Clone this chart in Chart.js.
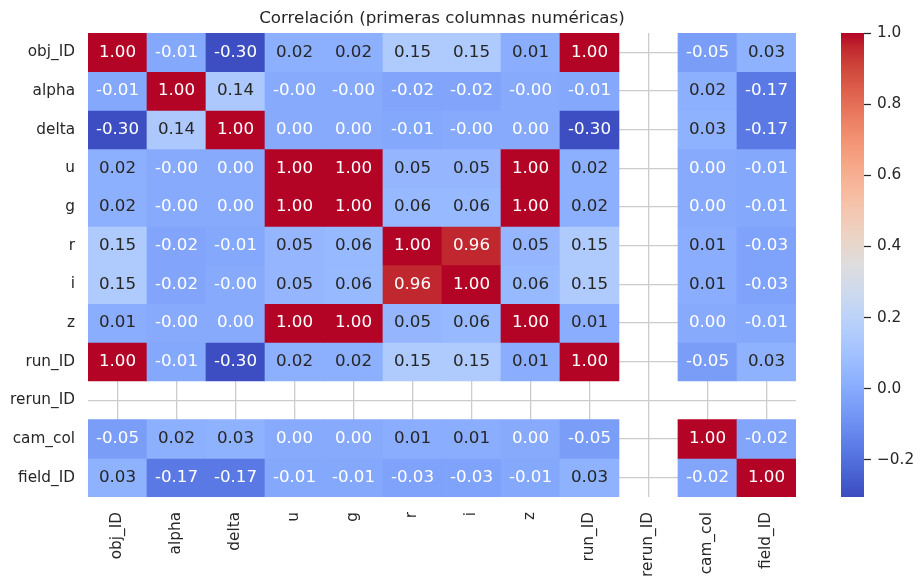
<!DOCTYPE html>
<html>
<head>
<meta charset="utf-8">
<script src="https://cdn.jsdelivr.net/npm/chart.js@4.4.0/dist/chart.umd.min.js"></script>
<style>
    html, body { margin: 0; padding: 0; background: #fff; }
    #wrap { position: relative; width: 924px; height: 584px; }
    #heat { position: absolute; left: 0; top: 0; }
    #cbar { position: absolute; left: 800px; top: 0; }
</style>
</head>
<body>
<div id="wrap">
    <canvas id="heat" width="800" height="584"></canvas>
    <canvas id="cbar" width="124" height="584"></canvas>
</div>
<script>
// columnas (mismo orden en filas y columnas)
const columns = ['obj_ID', 'alpha', 'delta', 'u', 'g', 'r', 'i', 'z', 'run_ID', 'rerun_ID', 'cam_col', 'field_ID'];

// una fila de la matriz de correlación por variable (null = NaN)
const rowObjID   = [1.00, -0.01, -0.30, 0.02, 0.02, 0.15, 0.15, 0.01, 1.00, null, -0.05, 0.03];
const rowAlpha   = [-0.01, 1.00, 0.14, -0.00, -0.00, -0.02, -0.02, -0.00, -0.01, null, 0.02, -0.17];
const rowDelta   = [-0.30, 0.14, 1.00, 0.00, 0.00, -0.01, -0.00, 0.00, -0.30, null, 0.03, -0.17];
const rowU       = [0.02, -0.00, 0.00, 1.00, 1.00, 0.05, 0.05, 1.00, 0.02, null, 0.00, -0.01];
const rowG       = [0.02, -0.00, 0.00, 1.00, 1.00, 0.06, 0.06, 1.00, 0.02, null, 0.00, -0.01];
const rowR       = [0.15, -0.02, -0.01, 0.05, 0.06, 1.00, 0.96, 0.05, 0.15, null, 0.01, -0.03];
const rowI       = [0.15, -0.02, -0.00, 0.05, 0.06, 0.96, 1.00, 0.06, 0.15, null, 0.01, -0.03];
const rowZ       = [0.01, -0.00, 0.00, 1.00, 1.00, 0.05, 0.06, 1.00, 0.01, null, 0.00, -0.01];
const rowRunID   = [1.00, -0.01, -0.30, 0.02, 0.02, 0.15, 0.15, 0.01, 1.00, null, -0.05, 0.03];
const rowRerunID = [null, null, null, null, null, null, null, null, null, null, null, null];
const rowCamCol  = [-0.05, 0.02, 0.03, 0.00, 0.00, 0.01, 0.01, 0.00, -0.05, null, 1.00, -0.02];
const rowFieldID = [0.03, -0.17, -0.17, -0.01, -0.01, -0.03, -0.03, -0.01, 0.03, null, -0.02, 1.00];

const matrix = [rowObjID, rowAlpha, rowDelta, rowU, rowG, rowR, rowI, rowZ, rowRunID, rowRerunID, rowCamCol, rowFieldID];

// rango de la barra de color y sus marcas
const colorMin = -0.304;
const colorMax = 1.0;
const cbarTicks = [-0.2, 0.0, 0.2, 0.4, 0.6, 0.8, 1.0];

const FONT = 'DejaVu Sans';
const DARK = '#262626';

// coolwarm (matplotlib), 33 puntos
const coolwarm = [
    [0.2298, 0.2987, 0.7537], [0.2662, 0.3531, 0.8015], [0.3039, 0.4065, 0.8450], [0.3428, 0.4588, 0.8837],
    [0.3830, 0.5094, 0.9174], [0.4244, 0.5581, 0.9456], [0.4667, 0.6046, 0.9682], [0.5096, 0.6483, 0.9848],
    [0.5530, 0.6889, 0.9954], [0.5963, 0.7261, 0.9998], [0.6392, 0.7596, 0.9982], [0.6813, 0.7890, 0.9904],
    [0.7222, 0.8140, 0.9766], [0.7615, 0.8343, 0.9569], [0.7987, 0.8498, 0.9317], [0.8335, 0.8602, 0.9011],
    [0.8654, 0.8654, 0.8654], [0.8978, 0.8489, 0.8209], [0.9241, 0.8274, 0.7745], [0.9445, 0.8009, 0.7267],
    [0.9589, 0.7698, 0.6780], [0.9673, 0.7341, 0.6288], [0.9700, 0.6943, 0.5794], [0.9668, 0.6504, 0.5303],
    [0.9580, 0.6028, 0.4818], [0.9437, 0.5518, 0.4342], [0.9239, 0.4973, 0.3880], [0.8990, 0.4396, 0.3432],
    [0.8692, 0.3783, 0.3003], [0.8346, 0.3129, 0.2593], [0.7956, 0.2413, 0.2205], [0.7525, 0.1572, 0.1841],
    [0.7057, 0.0156, 0.1502]
];

function cmap(t) {
    t = Math.max(0, Math.min(1, t));
    let pos = t * (coolwarm.length - 1);
    let i = Math.min(Math.floor(pos), coolwarm.length - 2);
    let f = pos - i;
    let a = coolwarm[i], b = coolwarm[i + 1];
    return [0, 1, 2].map(k => a[k] + (b[k] - a[k]) * f);
}

function toCss(c) {
    return 'rgb(' + c.map(v => Math.round(v * 255)).join(',') + ')';
}

function cellRgb(v) {
    return cmap((v - colorMin) / (colorMax - colorMin));
}

// texto claro u oscuro según luminancia de la celda (como seaborn)
function textColor(v) {
    let lin = cellRgb(v).map(c => c <= 0.03928 ? c / 12.92 : Math.pow((c + 0.055) / 1.055, 2.4));
    let lum = 0.2126 * lin[0] + 0.7152 * lin[1] + 0.0722 * lin[2];
    return lum > 0.415 ? DARK : '#ffffff';
}

function fmt(v) {
    if (v < 0 || Object.is(v, -0)) return '-' + Math.abs(v).toFixed(2);
    return v.toFixed(2);
}

let datasets = matrix.map((vals, r) => {
    return {
        label: columns[r],
        data: vals.map(v => v === null ? null : [r, r + 1]),
        backgroundColor: vals.map(v => v === null ? 'rgba(0,0,0,0)' : toCss(cellRgb(v))),
        borderWidth: 0,
        barPercentage: 1,
        categoryPercentage: 1,
        grouped: false
    };
});

// valores dentro de las celdas
const annotPlugin = {
    id: 'annot',
    afterDatasetsDraw(chart) {
        const ctx = chart.ctx;
        const x = chart.scales.x, y = chart.scales.y;
        ctx.save();
        ctx.font = '16.7px "' + FONT + '"';
        ctx.textAlign = 'center';
        ctx.textBaseline = 'middle';
        matrix.forEach((vals, r) => {
            vals.forEach((v, c) => {
                if (v === null) return;
                ctx.fillStyle = textColor(v);
                ctx.fillText(fmt(v), x.getPixelForValue(c), y.getPixelForValue(r + 0.5));
            });
        });
        ctx.restore();
    }
};

new Chart(document.getElementById('heat'), {
    type: 'bar',
    data: { labels: columns, datasets: datasets },
    plugins: [annotPlugin],
    options: {
        responsive: false,
        animation: false,
        layout: { padding: { left: 0, right: 3, top: 0, bottom: 0 } },
        plugins: {
            legend: { display: false },
            tooltip: { enabled: false },
            title: {
                display: true,
                text: 'Correlación (primeras columnas numéricas)',
                fullSize: false,
                color: DARK,
                font: { family: FONT, size: 16.7, weight: 'normal', lineHeight: 1.2 },
                padding: { top: 9, bottom: 4 }
            }
        },
        scales: {
            x: {
                type: 'category',
                offset: true,
                afterFit: s => { s.height = 87; },
                ticks: {
                    autoSkip: false,
                    maxRotation: 90,
                    minRotation: 90,
                    padding: 15,
                    color: DARK,
                    font: { family: FONT, size: 15.3 }
                },
                grid: { color: '#cccccc', lineWidth: 1.3, offset: false, drawTicks: false },
                border: { display: false }
            },
            y: {
                type: 'linear',
                min: 0,
                max: 12,
                reverse: true,
                afterBuildTicks: s => { s.ticks = columns.map((_, i) => ({ value: i + 0.5 })); },
                afterFit: s => { s.width = 88; },
                ticks: {
                    autoSkip: false,
                    padding: 13,
                    color: DARK,
                    font: { family: FONT, size: 15.3 },
                    callback: (v, i) => columns[i]
                },
                grid: { color: '#cccccc', lineWidth: 1.3, drawTicks: false },
                border: { display: false }
            }
        }
    }
});

// barra de color
new Chart(document.getElementById('cbar'), {
    type: 'bar',
    data: {
        labels: [''],
        datasets: [{
            data: [[colorMin, colorMax]],
            borderWidth: 0,
            barPercentage: 1,
            categoryPercentage: 1,
            backgroundColor: function (context) {
                const area = context.chart.chartArea;
                if (!area) return null;
                const g = context.chart.ctx.createLinearGradient(0, area.bottom, 0, area.top);
                coolwarm.forEach((c, i) => g.addColorStop(i / (coolwarm.length - 1), toCss(c)));
                return g;
            }
        }]
    },
    options: {
        responsive: false,
        animation: false,
        layout: { padding: { left: 41, right: 0, top: 33, bottom: 87 } },
        plugins: { legend: { display: false }, tooltip: { enabled: false } },
        scales: {
            x: { display: false },
            y: {
                position: 'right',
                min: colorMin,
                max: colorMax,
                afterBuildTicks: s => { s.ticks = cbarTicks.map(v => ({ value: v })); },
                afterFit: s => { s.width = 60; },
                ticks: {
                    padding: 6,
                    color: DARK,
                    font: { family: FONT, size: 15.3 },
                    callback: v => v < 0 ? '\u2212' + Math.abs(v).toFixed(1) : v.toFixed(1)
                },
                grid: { drawOnChartArea: false, tickLength: 7, tickColor: DARK, tickWidth: 1.25 },
                border: { display: false }
            }
        }
    }
});
</script>
</body>
</html>
